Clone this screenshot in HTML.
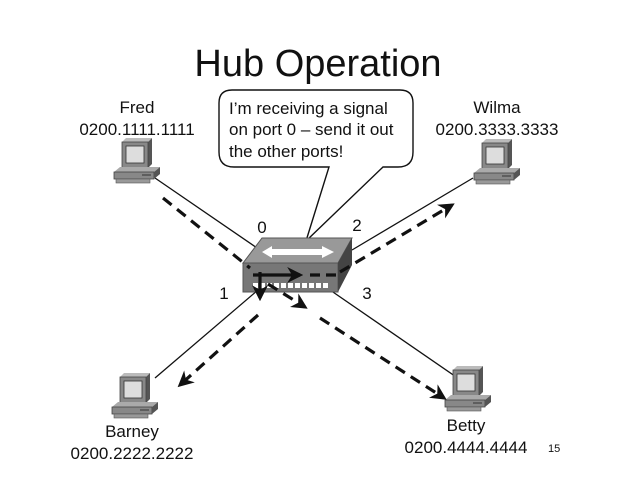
<!DOCTYPE html>
<html><head><meta charset="utf-8"><style>
body{margin:0;background:#fff}
svg{display:block}
text{font-family:"Liberation Sans",Arial,sans-serif;fill:#111}
</style></head><body>
<svg width="638" height="479" viewBox="0 0 638 479" xmlns="http://www.w3.org/2000/svg">
<defs>
<g id="pc">
  <polygon points="10,4 14,0 40,0 36,4" fill="#bbb"/>
  <polygon points="36,4 40,0 40,26 36,30" fill="#555"/>
  <rect x="10" y="4" width="26" height="26" fill="#888" stroke="#444" stroke-width="0.8"/>
  <rect x="14" y="8" width="18" height="17" fill="#ddd" stroke="#333" stroke-width="0.8"/>
  <polygon points="2,34 8,29 48,29 42,34" fill="#aaa"/>
  <rect x="2" y="34" width="40" height="7" fill="#888" stroke="#444" stroke-width="0.8"/>
  <polygon points="42,34 48,29 48,36 42,41" fill="#555"/>
  <line x1="30" y1="37" x2="39" y2="37" stroke="#333"/>
  <rect x="4" y="41" width="34" height="4" fill="#999" stroke="#555" stroke-width="0.6"/>
</g>
<marker id="ah" viewBox="0 0 10 10" refX="8" refY="5" markerWidth="5" markerHeight="5" orient="auto">
  <path d="M0,0 L10,5 L0,10 L3,5z" fill="#111"/>
</marker>
</defs>
<text x="318" y="76" font-size="38" text-anchor="middle">Hub Operation</text>

<text x="137" y="113" font-size="17" text-anchor="middle">Fred</text>
<text x="137" y="135" font-size="17" text-anchor="middle">0200.1111.1111</text>
<text x="497" y="113" font-size="17" text-anchor="middle">Wilma</text>
<text x="497" y="135" font-size="17" text-anchor="middle">0200.3333.3333</text>
<text x="132" y="437" font-size="17" text-anchor="middle">Barney</text>
<text x="132" y="459" font-size="17" text-anchor="middle">0200.2222.2222</text>
<text x="466" y="431" font-size="17" text-anchor="middle">Betty</text>
<text x="466" y="453" font-size="17" text-anchor="middle">0200.4444.4444</text>
<text x="548" y="452" font-size="11">15</text>
<text x="262" y="233" font-size="17" text-anchor="middle">0</text>
<text x="357" y="231" font-size="17" text-anchor="middle">2</text>
<text x="224" y="299" font-size="17" text-anchor="middle">1</text>
<text x="367" y="299" font-size="17" text-anchor="middle">3</text>

<g stroke="#111" stroke-width="1.3" fill="none">
<line x1="155" y1="178" x2="260" y2="250"/>
<line x1="352" y1="250" x2="473" y2="178"/>
<line x1="155" y1="378" x2="258" y2="290"/>
<line x1="330" y1="290" x2="478" y2="392"/>
</g>

<path d="M232,90 H400 Q413,90 413,103 V152 Q413,167 398,167 H383 L306,241 L329,167 H234 Q219,167 219,152 V103 Q219,90 232,90 Z" fill="#fff" stroke="#111" stroke-width="1.4"/>
<text font-size="17"><tspan x="229" y="114">I’m receiving a signal</tspan><tspan x="229" y="135">on port 0 – send it out</tspan><tspan x="229" y="157">the other ports!</tspan></text>

<use href="#pc" x="112" y="138"/>
<use href="#pc" x="472" y="139"/>
<use href="#pc" x="110" y="373"/>
<use href="#pc" x="443" y="366"/>

<polygon points="243,263 262,238 352,238 338,263" fill="#999" stroke="#555"/>
<rect x="243" y="263" width="95" height="29" fill="#777" stroke="#555"/>
<polygon points="338,263 352,238 352,265 338,292" fill="#444"/>
<polygon points="262,252 272,246 272,249 322,249 322,246 334,252 322,258 322,255 272,255 272,258" fill="#fff"/>
<g fill="#fff"><rect x="253" y="283" width="5" height="5"/><rect x="260" y="283" width="5" height="5"/><rect x="267" y="283" width="5" height="5"/><rect x="274" y="283" width="5" height="5"/><rect x="281" y="283" width="5" height="5"/><rect x="288" y="283" width="5" height="5"/><rect x="295" y="283" width="5" height="5"/><rect x="302" y="283" width="5" height="5"/><rect x="309" y="283" width="5" height="5"/><rect x="316" y="283" width="5" height="5"/><rect x="323" y="283" width="5" height="5"/></g>

<g stroke="#111" stroke-width="3.2" fill="none">
<line x1="163" y1="198" x2="250" y2="268" stroke-dasharray="11,7"/>
<line x1="268" y1="284" x2="305" y2="307" stroke-dasharray="11,7" marker-end="url(#ah)"/>
<line x1="320" y1="318" x2="444" y2="398" stroke-dasharray="11,7" marker-end="url(#ah)"/>
<line x1="253" y1="275" x2="300" y2="275" marker-end="url(#ah)"/>
<line x1="310" y1="275" x2="340" y2="275" stroke-dasharray="10,6"/>
<line x1="340" y1="272" x2="452" y2="205" stroke-dasharray="11,7" marker-end="url(#ah)"/>
<line x1="260" y1="272" x2="260" y2="298" marker-end="url(#ah)"/>
<line x1="258" y1="315" x2="180" y2="385" stroke-dasharray="11,7" marker-end="url(#ah)"/>
</g>
</svg>
</body></html>
